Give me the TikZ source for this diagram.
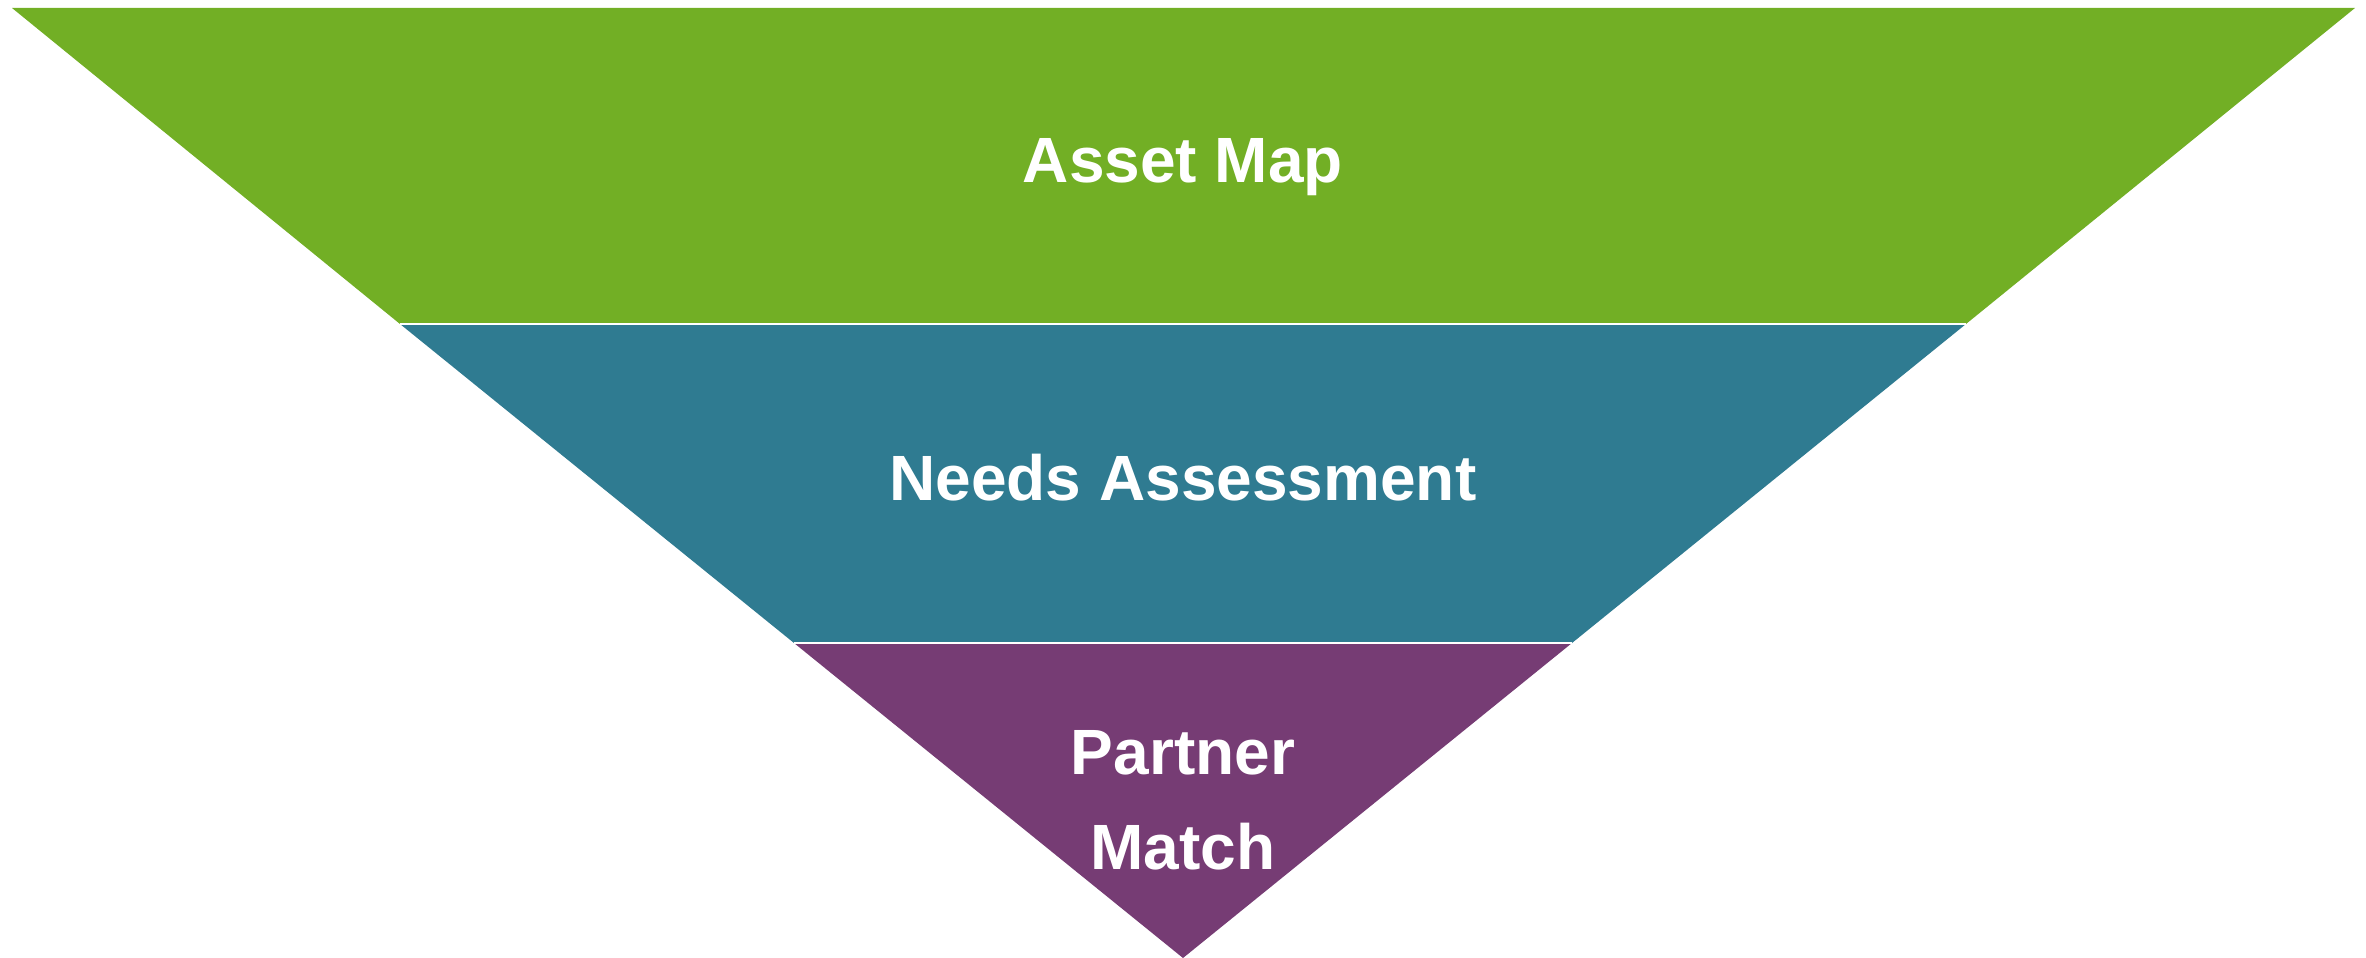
\documentclass[tikz,border=0pt]{standalone}
\usepackage{fontspec}
\setmainfont{Liberation Sans}

\definecolor{mapgreen}{RGB}{114,175,37}
\definecolor{needsteal}{RGB}{47,123,145}
\definecolor{matchpurple}{RGB}{118,60,116}

\tikzset{
  label text/.style={text=white, font=\bfseries\fontsize{18.2}{27}\selectfont, inner sep=0pt},
  gap line/.style={white, line width=0.02cm}
}

\begin{document}
\begin{tikzpicture}[x=0.01cm, y=-0.01cm]
\useasboundingbox (0,0) rectangle (2366,958);

%--- Funnel corners ---
\coordinate (topL) at (12,8);
\coordinate (topR) at (2355,8);
\coordinate (tip)  at (1183,958);
\coordinate (midL) at (400,324);
\coordinate (midR) at (1966,324);
\coordinate (lowL) at (794,643);
\coordinate (lowR) at (1572,643);

%--- Bands ---
\fill[mapgreen] (topL) -- (topR) -- (midR) -- (midL) -- cycle;
\fill[needsteal] (midL) -- (midR) -- (lowR) -- (lowL) -- cycle;
\fill[matchpurple] (lowL) -- (lowR) -- (tip) -- cycle;

% thin white gaps between bands
\draw[gap line] (midL) -- (midR);
\draw[gap line] (lowL) -- (lowR);

%--- Labels ---
\node[label text, anchor=base] (asset) at (1183,183) {Asset Map};
\node[label text, anchor=base] (needs) at (1183,501) {Needs Assessment};
\node[label text, align=center] (match) at (1183,800) {Partner\\Match};

\end{tikzpicture}
\end{document}
